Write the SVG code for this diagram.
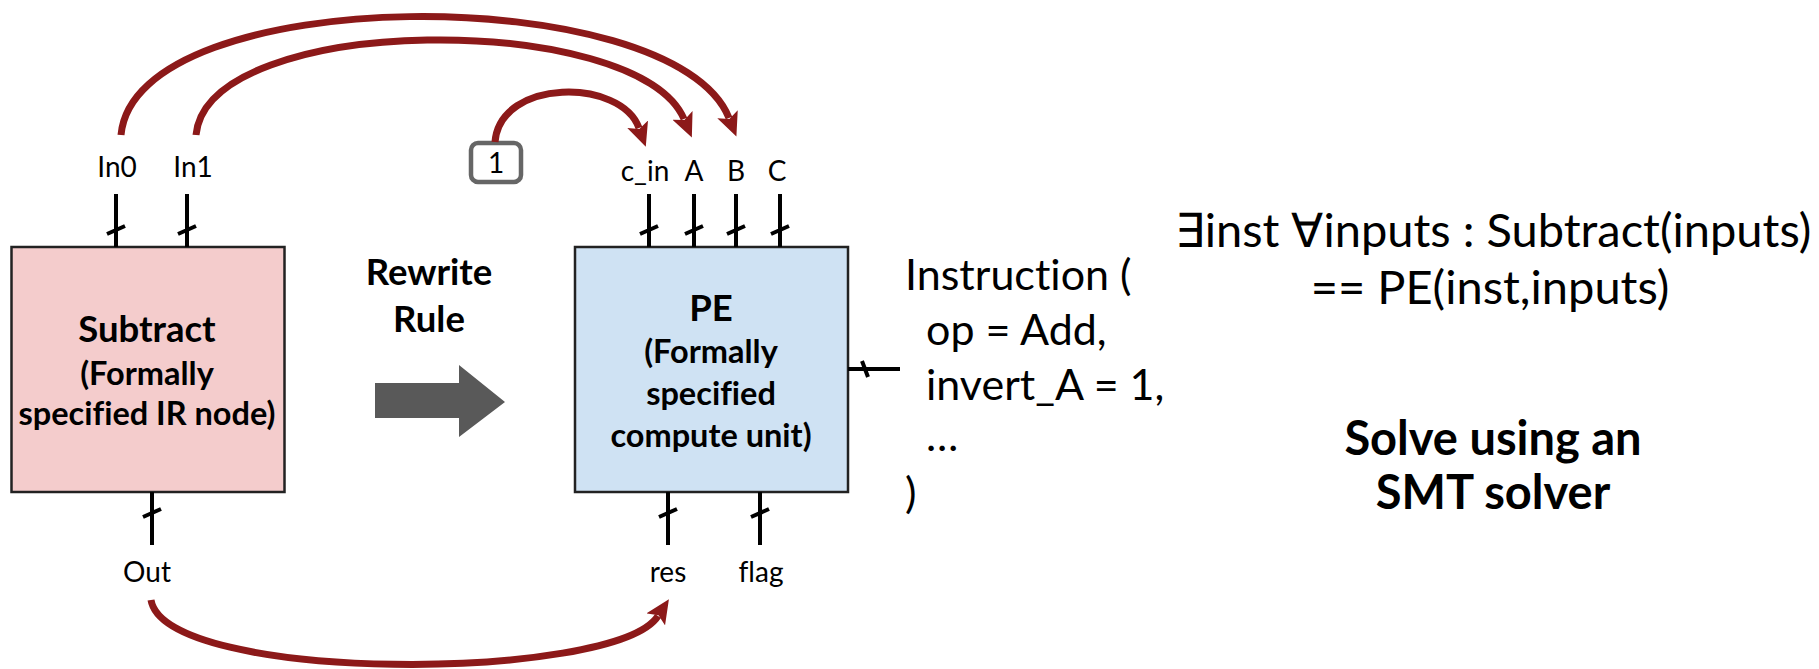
<svg xmlns="http://www.w3.org/2000/svg" width="1819" height="669" viewBox="0 0 1819 669">
<style>
text{font-family:Lato,"Open Sans","Liberation Sans",sans-serif;fill:#000;font-variant-ligatures:none;font-feature-settings:"liga" 0,"clig" 0}
.port{font-size:28px;text-anchor:middle}
.title{font-size:36.5px;font-weight:bold;text-anchor:middle}
.sub{font-size:32.5px;font-weight:bold;text-anchor:middle}
.code{font-size:43px}
.big{font-size:47px;text-anchor:middle}
.bold{font-size:47px;font-weight:bold;text-anchor:middle}
.wire{stroke:#000;stroke-width:4;fill:none}
.box{stroke:#222;stroke-width:2.5}
.conn{stroke:#8c1919;stroke-width:7;fill:none;marker-end:url(#ah)}
</style>
<defs>
<marker id="ah" markerUnits="userSpaceOnUse" viewBox="0 0 24 22" markerWidth="24" markerHeight="22" refX="4" refY="11" orient="auto">
<path d="M0,0 L24,11 L0,22 L5,11 Z" fill="#8c1919"/>
</marker>
</defs>
<rect width="1819" height="669" fill="#fff"/>

<g id="subtract">
<rect class="box" x="11.5" y="247" width="273" height="245" fill="#F4CCCC"/>
<text class="title" x="147" y="342">Subtract</text>
<text class="sub" x="147" y="385">(Formally</text>
<text class="sub" x="147" y="425">specified IR node)</text>
<path class="wire" d="M116,194 V247 M107,234 L125,226"/>
<path class="wire" d="M187,194 V247 M178,234 L196,226"/>
<path class="wire" d="M152,492 V545 M143,517 L161,509"/>
<text class="port" x="117" y="177">In0</text>
<text class="port" x="193" y="177">In1</text>
<text class="port" x="147" y="582">Out</text>
</g>

<g id="rewrite">
<text class="title" x="429" y="285">Rewrite</text>
<text class="title" x="429" y="332">Rule</text>
<path d="M375,383 H459 V365 L505,402 L459,437 V418 H375 Z" fill="#595959"/>
</g>

<g id="const1">
<rect x="471" y="143" width="50" height="39" rx="7" fill="#fff" stroke="#666" stroke-width="4.5"/>
<text class="port" x="496" y="173">1</text>
</g>

<g id="pe">
<rect class="box" x="575" y="247" width="273" height="245" fill="#CFE2F3"/>
<text class="title" x="711" y="321">PE</text>
<text class="sub" x="711" y="363">(Formally</text>
<text class="sub" x="711" y="405">specified</text>
<text class="sub" x="711" y="447">compute unit)</text>
<path class="wire" d="M649,194 V247 M640,234 L658,226"/>
<path class="wire" d="M694,194 V247 M685,234 L703,226"/>
<path class="wire" d="M736,194 V247 M727,234 L745,226"/>
<path class="wire" d="M780,194 V247 M771,234 L789,226"/>
<path class="wire" d="M668,492 V545 M659,517 L677,509"/>
<path class="wire" d="M760,492 V545 M751,517 L769,509"/>
<path class="wire" d="M848,369 H900 M862,361 L868,377"/>
<text class="port" x="645" y="181">c_in</text>
<text class="port" x="694" y="181">A</text>
<text class="port" x="736" y="181">B</text>
<text class="port" x="777" y="181">C</text>
<text class="port" x="668" y="582">res</text>
<text class="port" x="761" y="582">flag</text>
</g>

<g id="instruction">
<text class="code" x="905" y="290">Instruction (</text>
<text class="code" x="926" y="345">op = Add,</text>
<text class="code" x="926" y="400">invert_A = 1,</text>
<text class="code" x="926" y="451">…</text>
<text class="code" x="905" y="508">)</text>
</g>

<g id="formula">
<text class="big" x="1493" y="247">∃inst ∀inputs : Subtract(inputs)</text>
<text class="big" x="1490" y="304">== PE(inst,inputs)</text>
</g>

<g id="solver">
<text class="bold" x="1493" y="455">Solve using an</text>
<text class="bold" x="1493" y="509">SMT solver</text>
</g>

<g id="connectors">
<path class="conn" d="M121,135 C135,-20 674,-20 729,118"/>
<path class="conn" d="M196,135 C208,11 638,11 684,119"/>
<path class="conn" d="M495,142 C500,78 621,78 639,128"/>
<path class="conn" d="M151,600 C165,684 615,682 658,616"/>
</g>
</svg>
